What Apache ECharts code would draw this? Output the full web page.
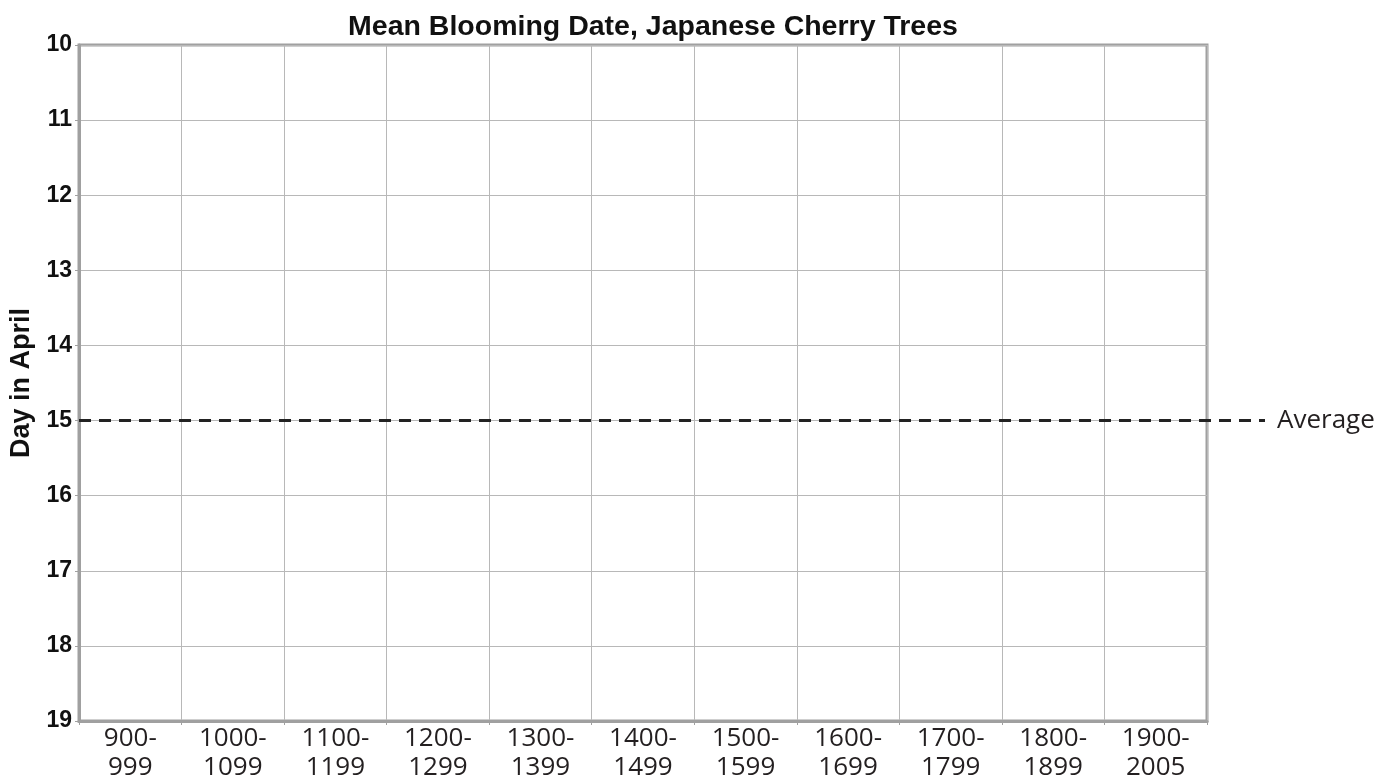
<!DOCTYPE html>
<html>
<head>
<meta charset="utf-8">
<script src="https://cdn.jsdelivr.net/npm/echarts@6/dist/echarts.min.js"></script>
<style>
html,body{margin:0;padding:0;background:#fff;}
#chart{width:1394px;height:780px;}
</style>
</head>
<body>
<div id="chart"></div>
<script>
const categories = ['900-\n999','1000-\n1099','1100-\n1199','1200-\n1299','1300-\n1399','1400-\n1499','1500-\n1599','1600-\n1699','1700-\n1799','1800-\n1899','1900-\n2005'];
const yMin = 10;
const yMax = 19;
const yInterval = 1;
const averageValue = 15;
const averageLabel = 'Average';
const titleText = 'Mean Blooming Date, Japanese Cherry Trees';
const yAxisName = 'Day in April';

const chart = echarts.init(document.getElementById('chart'));
const axisGray = '#a0a0a0';
const gridGray = '#b8b8b8';

chart.setOption({
  backgroundColor: '#fff',
  animation: false,
  title: {
    text: titleText,
    left: 648,
    textAlign: 'center',
    top: 8,
    textStyle: { fontFamily: 'Liberation Sans, Arial', fontWeight: 'bold', fontSize: 28.5, color: '#111' }
  },
  grid: [
    { left: 79, right: 187, top: 45, bottom: 59, containLabel: false, outerBoundsMode: 'none', show: true, borderColor: axisGray, borderWidth: 3, backgroundColor: 'transparent' },
    { left: 79, right: 129, top: 45, bottom: 59, containLabel: false, outerBoundsMode: 'none', show: false }
  ],
  xAxis: [
    {
      type: 'category',
      gridIndex: 0,
      data: categories,
      boundaryGap: true,
      axisLine: { show: true, lineStyle: { color: axisGray, width: 3 } },
      axisTick: { show: true, length: 4, interval: 0, lineStyle: { color: axisGray, width: 1 } },
      splitLine: { show: true, interval: 0, lineStyle: { color: gridGray, width: 1 } },
      axisLabel: { interval: 0, margin: 3, fontFamily: 'Open Sans', fontSize: 26, lineHeight: 29, color: '#231f20' }
    },
    { type: 'value', gridIndex: 1, min: 0, max: 1, show: false }
  ],
  yAxis: [
    {
      type: 'value',
      gridIndex: 0,
      inverse: true,
      min: yMin,
      max: yMax,
      interval: yInterval,
      name: yAxisName,
      nameLocation: 'middle',
      nameGap: 44,
      nameTextStyle: { fontFamily: 'Liberation Sans, Arial', fontWeight: 'bold', fontSize: 27, color: '#111' },
      axisLine: { show: true, lineStyle: { color: axisGray, width: 3 } },
      axisTick: { show: true, length: 4, lineStyle: { color: axisGray, width: 1 } },
      splitLine: { show: true, lineStyle: { color: gridGray, width: 1 } },
      axisLabel: { margin: 7, fontFamily: 'Liberation Sans, Arial', fontWeight: 'bold', fontSize: 23, color: '#111' }
    },
    { type: 'value', gridIndex: 1, inverse: true, min: yMin, max: yMax, show: false }
  ],
  series: [
    {
      type: 'line',
      xAxisIndex: 1,
      yAxisIndex: 1,
      data: [[0, averageValue], [1, averageValue]],
      symbol: 'none',
      silent: true,
      lineStyle: { color: '#222', width: 3, type: [12, 8] },
      endLabel: {
        show: true,
        formatter: averageLabel,
        distance: 12,
        fontFamily: 'Open Sans',
        fontSize: 26,
        color: '#231f20'
      }
    }
  ]
});
</script>
</body>
</html>
